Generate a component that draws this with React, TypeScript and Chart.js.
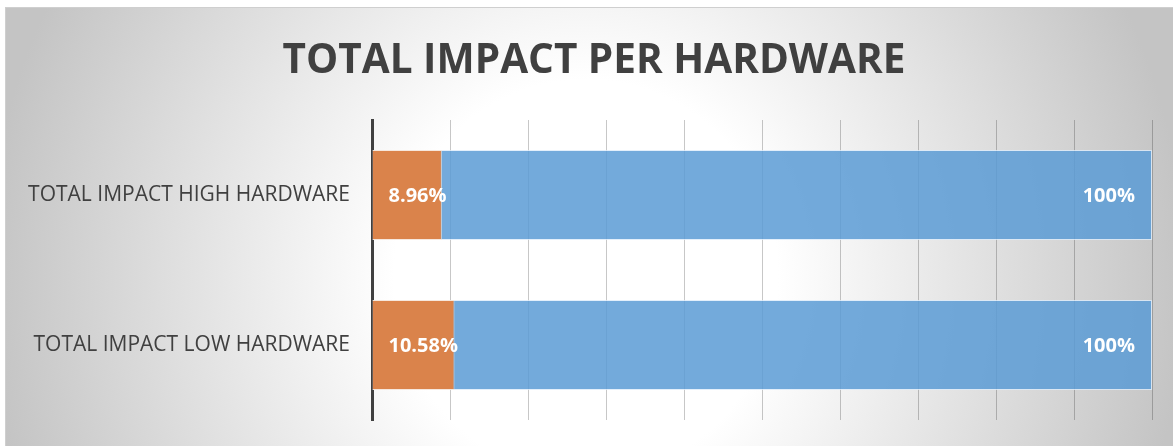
import React, { useEffect, useRef } from "react";
import { Chart, registerables } from "chart.js";

Chart.register(...registerables);

const TITLE = "TOTAL IMPACT PER HARDWARE";
const categories = ["TOTAL IMPACT HIGH HARDWARE", "TOTAL IMPACT LOW HARDWARE"];
const shareValues = [8.96, 10.58];
const totalValues = [100, 100];
const xTicks = { min: 0, max: 100, step: 10 };

const titlePlugin = {
  id: "customTitle",
  afterDraw(chart: any) {
    const ctx = chart.ctx;
    ctx.save();
    ctx.font = "bold 40.5px 'Open Sans'";
    ctx.fillStyle = "#404040";
    ctx.textAlign = "center";
    ctx.textBaseline = "alphabetic";
    ctx.fillText(TITLE, 588, 65);
    ctx.restore();
  },
};

const labelPlugin = {
  id: "barLabels",
  afterDatasetsDraw(chart: any) {
    const ctx = chart.ctx;
    ctx.save();
    ctx.font = "bold 20px 'Open Sans'";
    ctx.fillStyle = "#ffffff";
    ctx.textBaseline = "alphabetic";
    chart.data.datasets.forEach((ds: any, di: number) => {
      const meta = chart.getDatasetMeta(di);
      meta.data.forEach((el: any, i: number) => {
        const v = ds.data[i];
        const text = v === 100 ? "100%" : v.toFixed(2) + "%";
        const y = el.y + 7;
        if (di === 0) {
          ctx.textAlign = "left";
          ctx.fillText(text, el.base + 16, y);
        } else {
          ctx.textAlign = "right";
          ctx.fillText(text, el.x - 17, y);
        }
      });
    });
    ctx.restore();
  },
};

export default function App() {
  const ref = useRef<HTMLCanvasElement>(null);
  useEffect(() => {
    if (!ref.current) return;
    const chart = new Chart(ref.current, {
      type: "bar",
      data: {
        labels: categories,
        datasets: [
          {
            label: "Share",
            data: shareValues,
            backgroundColor: "#DA834B",
            borderColor: "rgba(255,230,210,0.7)",
            borderWidth: 1,
            grouped: false,
            categoryPercentage: 0.6,
            barPercentage: 1,
          } as any,
          {
            label: "Total",
            data: totalValues,
            backgroundColor: "rgba(91,155,213,0.85)",
            borderColor: "rgba(220,235,250,0.8)",
            borderWidth: 1,
            grouped: false,
            categoryPercentage: 0.6,
            barPercentage: 1,
          } as any,
        ],
      },
      options: {
        indexAxis: "y",
        responsive: false,
        maintainAspectRatio: false,
        animation: false,
        devicePixelRatio: 1,
        layout: { padding: { top: 112, right: 21, bottom: 26, left: 0 } },
        plugins: {
          legend: { display: false },
          title: { display: false },
          tooltip: { enabled: false },
        },
        scales: {
          x: {
            min: xTicks.min,
            max: xTicks.max,
            afterFit(scale: any) {
              scale.paddingLeft = 0;
              scale.paddingRight = 0;
              scale.paddingTop = 0;
              scale.paddingBottom = 0;
            },
            ticks: { display: false, stepSize: xTicks.step },
            grid: { color: "rgba(0,0,0,0.22)", lineWidth: 1, drawTicks: false },
            border: { display: false },
          },
          y: {
            afterFit(scale: any) {
              scale.width = 366;
              scale.paddingTop = 0;
              scale.paddingBottom = 0;
            },
            ticks: {
              color: "#404040",
              font: { family: "'Open Sans'", size: 21 },
              padding: 22,
            },
            grid: { display: false, drawTicks: false },
            border: { display: true, color: "#404040", width: 3 },
          },
        },
      },
      plugins: [titlePlugin, labelPlugin],
    });
    return () => chart.destroy();
  }, []);
  return (
    <div
      style={{
        position: "absolute",
        left: 5,
        top: 7,
        width: 1168,
        height: 439,
        borderTop: "1px solid #cfcfcf",
        borderLeft: "1px solid #cfcfcf",
        background:
          "radial-gradient(ellipse 600px 620px at 580px 270px, #ffffff 0%, #ffffff 32%, #c4c4c4 100%)",
      }}
    >
      <canvas ref={ref} width={1167} height={438} style={{ display: "block", width: 1167, height: 438 }} />
    </div>
  );
}
